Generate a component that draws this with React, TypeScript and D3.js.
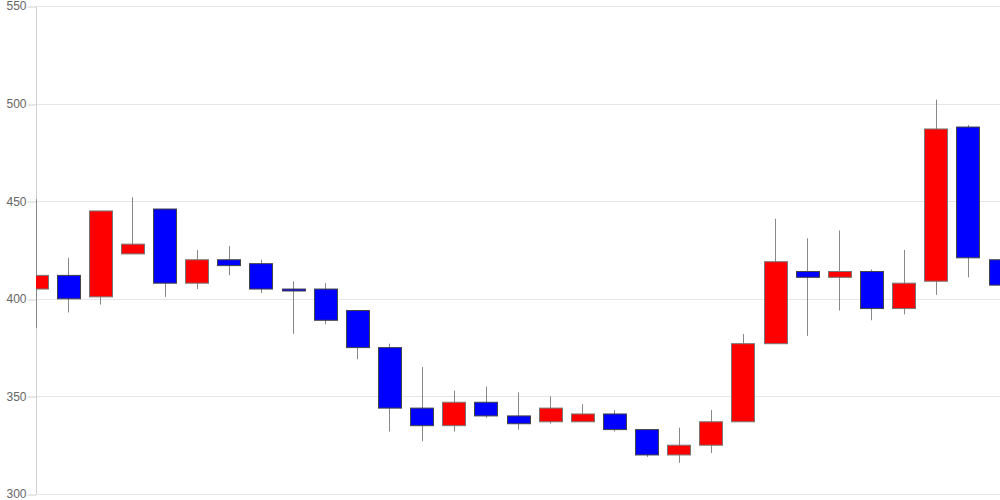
import React, { useEffect, useRef } from 'react';
import * as d3 from 'd3';

// daily candles, left to right (first and last are clipped by the plot edges)
const days = d3.range(31).map((i) => `d${i + 1}`);
const openValues = [405, 412, 401, 423, 446, 408, 420, 418, 405, 405, 394, 375, 344, 335, 347, 340, 337, 337, 341, 333, 320, 325, 337, 377, 414, 411, 414, 395, 409, 488, 420];
const closeValues = [412, 400, 445, 428, 408, 420, 417, 405, 404, 389, 375, 344, 335, 347, 340, 336, 344, 341, 333, 320, 325, 337, 377, 419, 411, 414, 395, 408, 487, 421, 407];
const highValues = [451, 421, 445, 452, 446, 425, 427, 420, 409, 408, 394, 377, 365, 353, 355, 352, 350, 346, 343, 333, 334, 343, 382, 441, 431, 435, 415, 425, 502, 489, 441];
const lowValues = [385, 393, 397, 423, 401, 405, 412, 403, 382, 387, 369, 332, 327, 332, 339, 333, 336, 337, 332, 319, 316, 321, 337, 377, 381, 394, 389, 392, 402, 411, 404];
const yTicks = [300, 350, 400, 450, 500, 550];

const App = () => {
  const svgRef = useRef<SVGSVGElement>(null);
  const width = 1000;
  const height = 500;

  useEffect(() => {
    const svg = d3.select(svgRef.current);
    svg.selectAll('*').remove();

    const left = 36;
    const right = 1000;
    const top = 6;
    const bottom = 494;

    const x = d3.scalePoint<string>().domain(days).range([left, right]).padding(0);
    const y = d3.scaleLinear().domain([300, 550]).range([bottom, top]);

    // gridlines
    svg.append('g')
      .selectAll('line')
      .data(yTicks)
      .enter().append('line')
      .attr('x1', left)
      .attr('x2', right)
      .attr('y1', (d) => Math.round(y(d)) + 0.5)
      .attr('y2', (d) => Math.round(y(d)) + 0.5)
      .attr('stroke', '#e6e6e6')
      .attr('stroke-width', 1);

    // y axis
    const axis = svg.append('g')
      .attr('transform', `translate(${left + 0.5},0)`)
      .call(d3.axisLeft(y).tickValues(yTicks).tickSize(9).tickPadding(1));
    axis.select('.domain').attr('stroke', '#d0d0d0').attr('d', `M0,${top}V${bottom}`);
    axis.selectAll('.tick line').attr('stroke', '#d0d0d0').attr('transform', (d: any) => `translate(0,${Math.round(y(d)) + 0.5 - y(d)})`);
    axis.selectAll('.tick text')
      .attr('fill', '#666')
      .attr('font-family', 'Liberation Sans, Arial, sans-serif')
      .attr('font-size', '12px');

    // clip to plot area
    svg.append('clipPath').attr('id', 'plot-clip')
      .append('rect')
      .attr('x', left)
      .attr('y', 0)
      .attr('width', right - left)
      .attr('height', height);

    const candles = days.map((d, i) => ({
      day: d,
      open: openValues[i],
      close: closeValues[i],
      high: highValues[i],
      low: lowValues[i],
    }));

    const g = svg.append('g').attr('clip-path', 'url(#plot-clip)');
    const bodyW = 23;

    // wicks
    g.selectAll('.wick')
      .data(candles)
      .enter().append('line')
      .attr('class', 'wick')
      .attr('x1', (d) => Math.round(x(d.day)!) + 0.5)
      .attr('x2', (d) => Math.round(x(d.day)!) + 0.5)
      .attr('y1', (d) => y(d.high))
      .attr('y2', (d) => y(d.low))
      .attr('stroke', '#888')
      .attr('stroke-width', 1);

    // bodies
    g.selectAll('.body')
      .data(candles)
      .enter().append('rect')
      .attr('class', 'body')
      .attr('x', (d) => Math.round(x(d.day)! - bodyW / 2) + 0.5)
      .attr('y', (d) => y(Math.max(d.open, d.close)))
      .attr('width', bodyW)
      .attr('height', (d) => Math.max(1, Math.abs(y(d.open) - y(d.close))))
      .attr('fill', (d) => (d.close >= d.open ? '#ff0000' : '#0000ff'))
      .attr('stroke', (d) => (d.close >= d.open ? '#777' : '#444'))
      .attr('stroke-width', 1);
  }, []);

  return (
    <div style={{ position: 'fixed', left: 0, top: 0, background: '#fff' }}>
      <svg ref={svgRef} width={width} height={height} style={{ display: 'block' }}></svg>
    </div>
  );
};

export default App;
